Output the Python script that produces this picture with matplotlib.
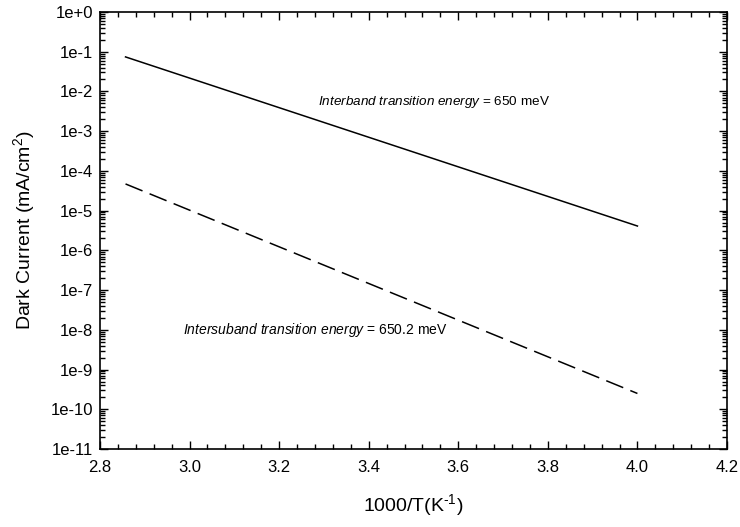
import matplotlib
matplotlib.use("Agg")
import matplotlib.pyplot as plt
from matplotlib.ticker import MultipleLocator, LogLocator, NullFormatter, FuncFormatter
import math

plt.rcParams['font.family'] = ['Liberation Sans', 'DejaVu Sans']
plt.rcParams['mathtext.fontset'] = 'custom'
plt.rcParams['mathtext.rm'] = 'Liberation Sans'
plt.rcParams['mathtext.it'] = 'Liberation Sans:italic'

# inverse temperature (1000/T) at the ends of each curve
x_inter = [2.857, 4.0]
y_inter = [7.4e-2, 4.1e-6]     # interband, mA/cm^2

x_intersub = [2.857, 4.0]
y_intersub = [4.7e-5, 2.5e-10]  # intersubband, mA/cm^2

fig = plt.figure(figsize=(7.4, 5.27), dpi=100)
ax = fig.add_axes([100/740, 1 - 449/527, 627/740, 437/527])

ax.plot(x_inter, y_inter, color='black', lw=1.1)
ax.plot(x_intersub, y_intersub, color='black', lw=1.1, dashes=(12, 5))

ax.set_yscale('log')
ax.set_xlim(2.8, 4.2)
ax.set_ylim(1e-11, 1e0)

ax.xaxis.set_major_locator(MultipleLocator(0.2))
ax.xaxis.set_minor_locator(MultipleLocator(0.04))
ax.xaxis.set_major_formatter(FuncFormatter(lambda v, p: f"{v:.1f}"))
ax.yaxis.set_major_locator(LogLocator(base=10, numticks=20))
ax.yaxis.set_minor_locator(LogLocator(base=10, subs=range(2, 10), numticks=20))
ax.yaxis.set_minor_formatter(NullFormatter())

def fmt(v, p):
    e = int(round(math.log10(v)))
    return f"1e+{e}" if e >= 0 else f"1e{e}"
ax.yaxis.set_major_formatter(FuncFormatter(fmt))

ax.tick_params(which='both', direction='in', top=True, right=True, labelsize=12, width=1)
ax.tick_params(which='major', length=6)
ax.tick_params(which='minor', length=3.5)
ax.tick_params(axis='x', pad=8)
ax.tick_params(axis='y', pad=5)
for s in ax.spines.values():
    s.set_linewidth(1.2)

ax.set_xlabel('1000/T(K$^{\\text{-1}}$)', fontsize=14, labelpad=12)
ax.set_ylabel('Dark Current (mA/cm$^{2}$)', fontsize=14, labelpad=10)

ax.text(3.287, 5.4e-3, '$\\it{Interband\\ transition\\ energy}$ = 650 meV', fontsize=9.7, va='center')
ax.text(2.985, 1.0e-8, '$\\it{Intersuband\\ transition\\ energy}$ = 650.2 meV', fontsize=10, va='center')

fig.savefig('out.png', dpi=100)
